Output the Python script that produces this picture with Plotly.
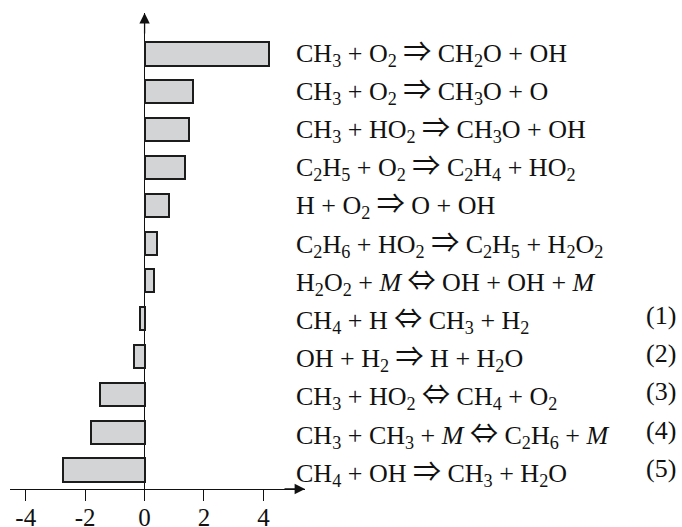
import plotly.graph_objects as go

R = '<span style="font-family:Noto Sans CJK JP;font-size:28px">⇒</span>'
E = '<span style="font-family:Noto Sans CJK JP;font-size:28px">⇔</span>'

reactions = [
    "CH<sub>3</sub> + O<sub>2</sub> " + R + " CH<sub>2</sub>O + OH",
    "CH<sub>3</sub> + O<sub>2</sub> " + R + " CH<sub>3</sub>O + O",
    "CH<sub>3</sub> + HO<sub>2</sub> " + R + " CH<sub>3</sub>O + OH",
    "C<sub>2</sub>H<sub>5</sub> + O<sub>2</sub> " + R + " C<sub>2</sub>H<sub>4</sub> + HO<sub>2</sub>",
    "H + O<sub>2</sub> " + R + " O + OH",
    "C<sub>2</sub>H<sub>6</sub> + HO<sub>2</sub> " + R + " C<sub>2</sub>H<sub>5</sub> + H<sub>2</sub>O<sub>2</sub>",
    "H<sub>2</sub>O<sub>2</sub> + <i>M</i> " + E + " OH + OH + <i>M</i>",
    "CH<sub>4</sub> + H " + E + " CH<sub>3</sub> + H<sub>2</sub>",
    "OH + H<sub>2</sub> " + R + " H + H<sub>2</sub>O",
    "CH<sub>3</sub> + HO<sub>2</sub> " + E + " CH<sub>4</sub> + O<sub>2</sub>",
    "CH<sub>3</sub> + CH<sub>3</sub> + <i>M</i> " + E + " C<sub>2</sub>H<sub>6</sub> + <i>M</i>",
    "CH<sub>4</sub> + OH " + R + " CH<sub>3</sub> + H<sub>2</sub>O",
]
numbers = ["", "", "", "", "", "", "", "(1)", "(2)", "(3)", "(4)", "(5)"]
values = [4.19, 1.64, 1.49, 1.35, 0.82, 0.43, 0.31, -0.14, -0.34, -1.51, -1.82, -2.76]
tick_vals = [-4, -2, 0, 2, 4]
tick_text = ["-4", "-2", "0", "2", "4"]

positions = list(range(len(values)))
FONT = "Liberation Serif, Times New Roman, DejaVu Serif, serif"

fig = go.Figure()
fig.add_trace(go.Bar(
    x=values, y=positions, orientation="h", width=0.61,
    marker=dict(color="#d3d4d6", line=dict(color="#1c1c1c", width=2)),
    hoverinfo="skip", showlegend=False,
))

annotations = []
for p, r, n in zip(positions, reactions, numbers):
    shift = 4 - 0.4 * p
    annotations.append(dict(
        x=0.963, xref="paper", y=p, yref="y", text=r, showarrow=False,
        xanchor="left", yanchor="middle", align="left", yshift=shift,
        font=dict(family=FONT, size=26, color="#111"),
    ))
    if n:
        annotations.append(dict(
            x=2.264, xref="paper", y=p, yref="y", text=n, showarrow=False,
            xanchor="right", yanchor="middle", yshift=shift + 2,
            font=dict(family=FONT, size=26, color="#111"),
        ))

# axis arrows
annotations.append(dict(x=0, xref="x", y=1, yref="paper", ax=0, ay=22,
                        text="", showarrow=True, arrowhead=2, arrowsize=1.6,
                        arrowwidth=1.3, arrowcolor="#111"))
annotations.append(dict(x=1, xref="paper", y=0, yref="paper", ax=-22, ay=0,
                        text="", showarrow=True, arrowhead=2, arrowsize=1.6,
                        arrowwidth=1.3, arrowcolor="#111"))

fig.update_layout(
    width=682, height=527,
    margin=dict(l=10, r=377, t=13, b=38, autoexpand=False),
    plot_bgcolor="white", paper_bgcolor="white",
    bargap=0,
    annotations=annotations,
    xaxis=dict(
        range=[-4.53, 5.40], showgrid=False, automargin=False,
        zeroline=True, zerolinecolor="#111", zerolinewidth=1.3,
        showline=True, linecolor="#111", linewidth=1.3,
        ticks="outside", ticklen=11, tickwidth=1.3, tickcolor="#111",
        tickvals=tick_vals, ticktext=tick_text, ticklabelstandoff=-5,
        tickfont=dict(family=FONT, size=25, color="#111"),
    ),
    yaxis=dict(
        range=[11.503, -1.085], showgrid=False, zeroline=False,
        showline=False, showticklabels=False, ticks="", automargin=False,
    ),
)

# remove the browser's default 8px body margin so the figure fills the window
fig.write_html("out.html", config={"displayModeBar": False},
               post_script="document.body.style.margin='0px';")
